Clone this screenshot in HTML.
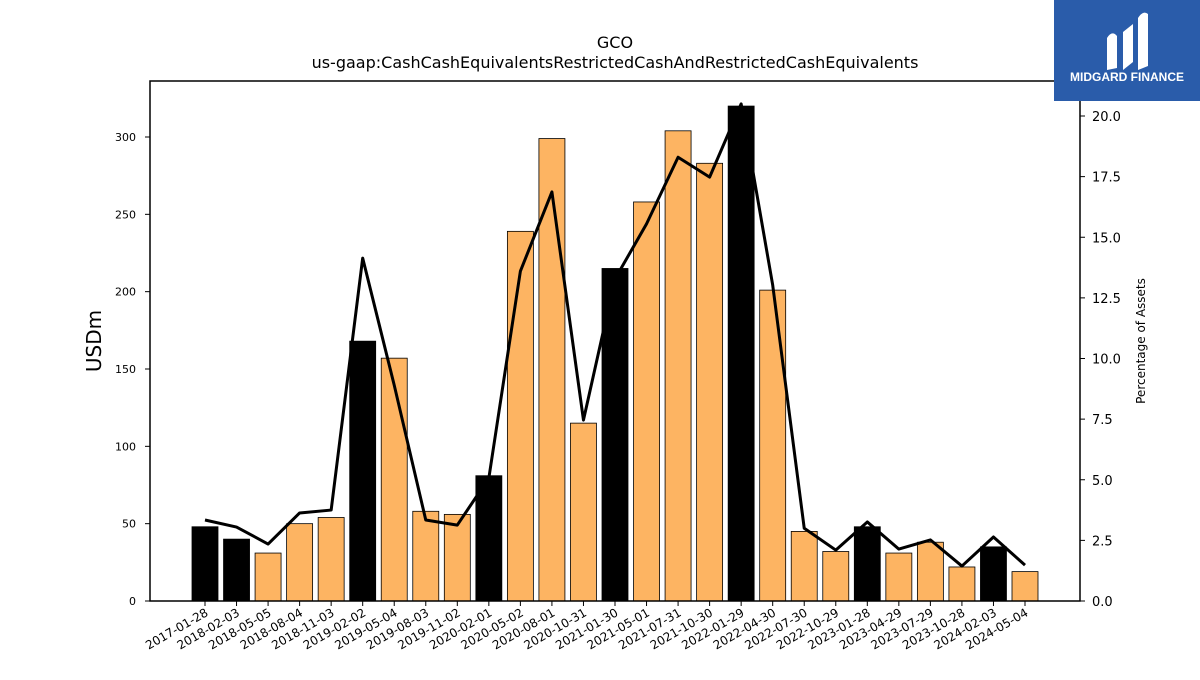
<!DOCTYPE html>
<html><head><meta charset="utf-8"><style>
body{margin:0;background:#fff;font-family:"Liberation Sans","DejaVu Sans",sans-serif}
svg text{font-family:"DejaVu Sans","Liberation Sans",sans-serif}
</style></head><body>
<svg id="chart" width="1200" height="675" viewBox="0 0 1200 675">
<text x="615" y="48" text-anchor="middle" font-size="16">GCO</text>
<text x="615" y="68" text-anchor="middle" font-size="16">us-gaap:CashCashEquivalentsRestrictedCashAndRestrictedCashEquivalents</text>
<text transform="translate(101,341) rotate(-90)" text-anchor="middle" font-size="20">USDm</text>
<text transform="translate(1145,341) rotate(-90)" text-anchor="middle" font-size="12">Percentage of Assets</text>
<g id="bars"></g><g id="line"></g><g id="axes"></g>
<rect x="150" y="81" width="930" height="520" fill="none" stroke="#000" stroke-width="1.5"/>
<g>
<rect x="1054" y="0" width="146" height="101" fill="#2a5caa"/>
<path d="M1107 70 L1107 38 Q1112 30 1117 36 L1117 68 Z M1123 70 L1123 32 L1133 24 L1133 62 Z M1138 70 L1138 18 Q1143 10 1148 14 L1148 66 Z" fill="#fff"/>
<text x="1127" y="81" text-anchor="middle" font-size="12" font-weight="bold" fill="#fff" style="font-family:'Liberation Sans',sans-serif">MIDGARD FINANCE</text>
</g>
</svg>
<script>
const categories=["2017-01-28","2018-02-03","2018-05-05","2018-08-04","2018-11-03","2019-02-02","2019-05-04","2019-08-03","2019-11-02","2020-02-01","2020-05-02","2020-08-01","2020-10-31","2021-01-30","2021-05-01","2021-07-31","2021-10-30","2022-01-29","2022-04-30","2022-07-30","2022-10-29","2023-01-28","2023-04-29","2023-07-29","2023-10-28","2024-02-03","2024-05-04"];
const cashValues=[48,40,31,50,54,168,157,58,56,81,239,299,115,215,258,304,283,320,201,45,32,48,31,38,22,35,19];
const isAnnual=[1,1,0,0,0,1,0,0,0,1,0,0,0,1,0,0,0,1,0,0,0,1,0,0,0,1,0];
const pctAssets=[3.34,3.05,2.35,3.63,3.75,14.14,8.9,3.34,3.13,5.07,13.6,16.87,7.46,13.28,15.55,18.3,17.48,20.5,13.03,3.0,2.1,3.26,2.14,2.52,1.44,2.64,1.48];
const leftTicks=[0,50,100,150,200,250,300];
const rightTicks=[0,2.5,5,7.5,10,12.5,15,17.5,20];
const NS="http://www.w3.org/2000/svg";
const X0=205,DX=(1025-205)/26,BW=26,BASE=601;
const x=i=>X0+i*DX;
const yL=v=>BASE-v*(464/300);
const yR=v=>BASE-v*(485/20);
function mk(t,a,p){const e=document.createElementNS(NS,t);for(const k in a)e.setAttribute(k,a[k]);p.appendChild(e);return e;}
const bars=document.getElementById('bars'),axes=document.getElementById('axes'),line=document.getElementById('line');
cashValues.forEach((v,i)=>{
 const r=mk('rect',{x:x(i)-BW/2,y:yL(v),width:BW,height:BASE-yL(v),fill:isAnnual[i]?'#000':'#fdb462',stroke:'#000','stroke-width':0.8},bars);
 
 
 const tk=mk('line',{x1:x(i),x2:x(i),y1:BASE,y2:BASE+5,stroke:'#000'},axes);
 const t=mk('text',{transform:`translate(${x(i)+4},${BASE+14}) rotate(-30)`,'text-anchor':'end','font-size':12},axes);
 t.textContent=categories[i];
 
 
});
leftTicks.forEach(v=>{
 mk('line',{x1:145,x2:150,y1:yL(v),y2:yL(v),stroke:'#000'},axes);
 const t=mk('text',{x:136,y:yL(v)+4,'text-anchor':'end','font-size':11},axes);
 t.textContent=v;
 
 
});
rightTicks.forEach(v=>{
 mk('line',{x1:1080,x2:1085,y1:yR(v),y2:yR(v),stroke:'#000'},axes);
 const t=mk('text',{x:1092,y:yR(v)+5,'font-size':13},axes);
 t.textContent=v.toFixed(1);
 
 
});
const pl=mk('polyline',{points:pctAssets.map((v,i)=>x(i)+','+yR(v)).join(' '),fill:'none',stroke:'#000','stroke-width':3,'stroke-linejoin':'round'},line);


</script>
</body></html>
